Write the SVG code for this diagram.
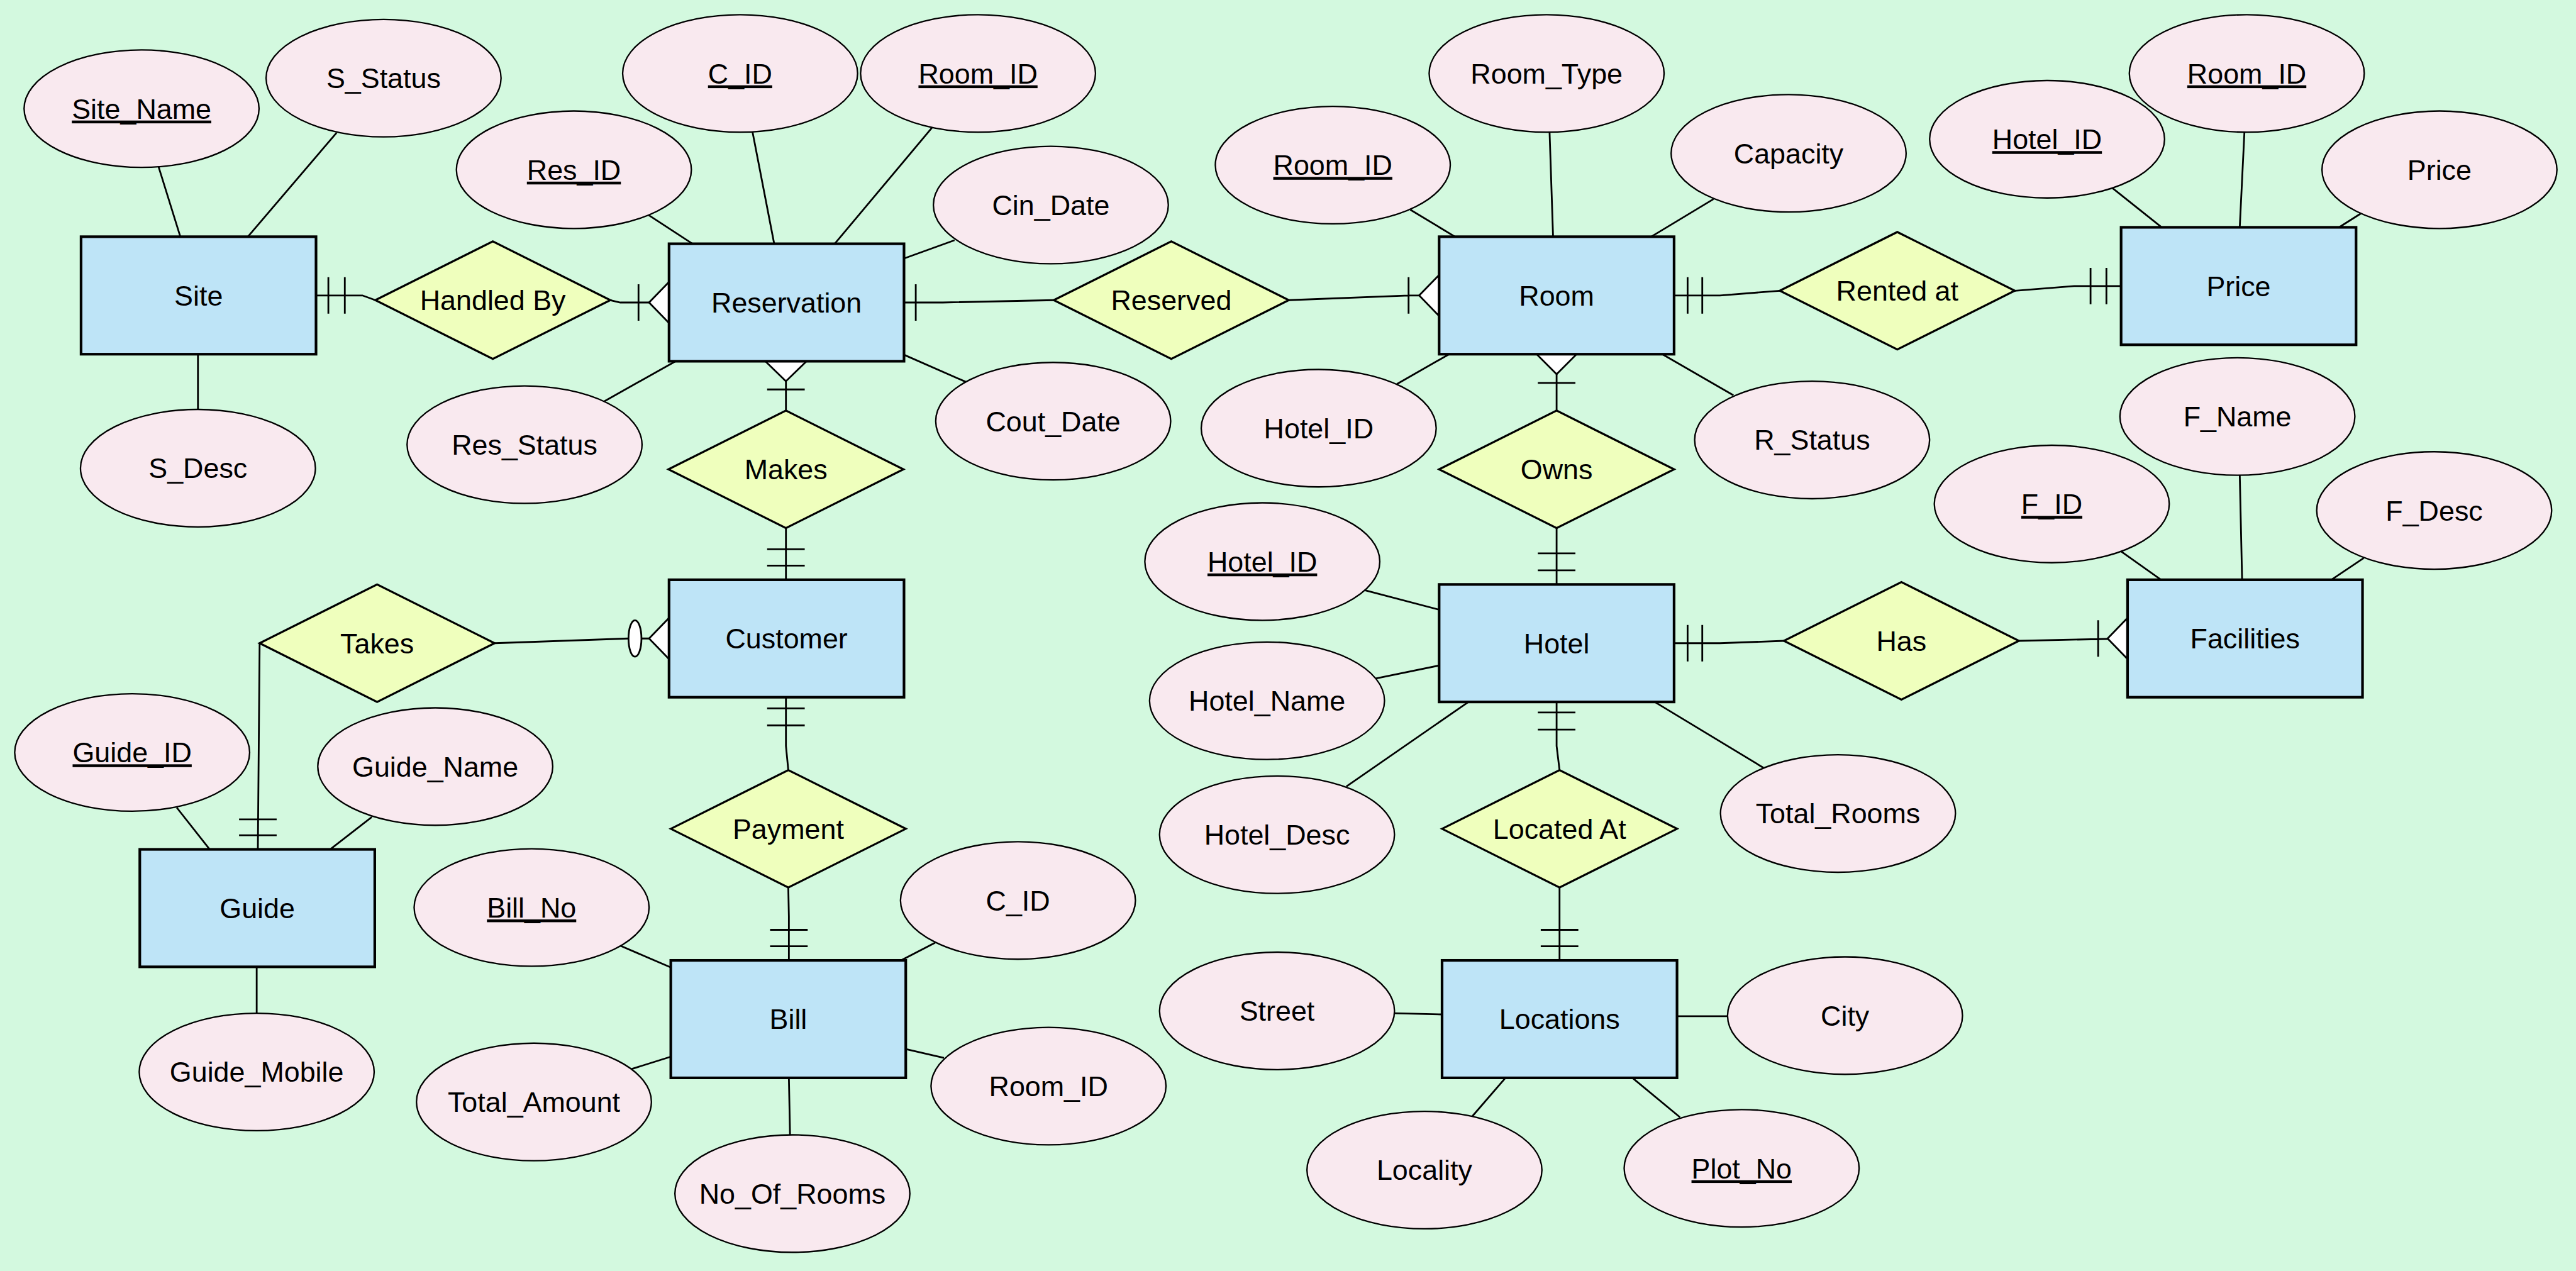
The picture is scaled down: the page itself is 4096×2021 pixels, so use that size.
<svg xmlns="http://www.w3.org/2000/svg" width="4096" height="2021" viewBox="0 0 4096 2021">
<style>
.ent{fill:#bee4f7;stroke:#000;stroke-width:4.5}
.rel{fill:#efffbd;stroke:#000;stroke-width:3.5}
.att{fill:#f9e9ef;stroke:#000;stroke-width:2.5}
.t{font-family:"Liberation Sans",Arial,sans-serif;font-size:48px;text-anchor:middle;fill:#000}
.u{text-decoration:underline}
.c{fill:none;stroke:#000;stroke-width:3}
.crow{fill:#fff;stroke:#000;stroke-width:3}
</style>
<rect width="4096" height="2021" fill="#d3f9df"/>
<g transform="scale(0.934)">
<g id="connectors">
<!-- attribute lines -->
<path class="c" d="M270,284L307,403M573,226L422,403M337,603L337,697"/>
<path class="c" d="M1104,366L1179,415M1281,224L1318,415M1587,217L1421,415M1625,409L1539,440M1644,650L1539,604M1029,683L1150,615"/>
<path class="c" d="M2401,357L2477,403M2638,224L2644,403M2917,339L2811,403M2378,654L2467,603M2951,673L2830,603"/>
<path class="c" d="M3596,320L3680,387M3821,224L3813,387M4020,363L3982,387"/>
<path class="c" d="M3610,938L3679,987M3813,808L3817,987M4024,950L3969,987"/>
<path class="c" d="M2324,1005L2450,1038M2342,1155L2450,1133M2292,1339L2500,1195M3002,1307L2817,1195"/>
<path class="c" d="M301,1375L357,1446M633,1391L562,1446M437,1646L437,1725"/>
<path class="c" d="M1056,1610L1142,1647M1592,1605L1534,1635M1075,1820L1142,1799M1607,1801L1542,1786M1345,1933L1343,1835"/>
<path class="c" d="M2373,1725L2455,1727M2855,1730L2941,1730M2506,1901L2563,1835M2779,1835L2860,1902"/>
<!-- relationship lines -->
<path class="c" d="M538,503L617,503L639,511M559,472L559,534M587,472L587,534"/>
<path class="c" d="M1039,511L1056,515L1139,515M1087,484L1087,546"/>
<polygon class="crow" points="1105,515 1139,480 1139,550"/>
<path class="c" d="M1539,515L1605,515L1794,511M1559,484L1559,546"/>
<path class="c" d="M2194,511L2398,503L2450,503M2398,472L2398,534"/>
<polygon class="crow" points="2416,503 2450,468 2450,538"/>
<path class="c" d="M2850,503L2928,503L3030,495M2873,472L2873,534M2898,472L2898,534"/>
<path class="c" d="M3430,495L3531,487L3611,487M3559,456L3559,518M3586,456L3586,518"/>
<path class="c" d="M1338,615L1338,699M1306,663L1370,663"/>
<polygon class="crow" points="1338,649 1303,615 1373,615"/>
<path class="c" d="M1338,899L1338,987M1306,935L1370,935M1306,963L1370,963"/>
<path class="c" d="M2650,603L2650,699M2618,652L2682,652"/>
<polygon class="crow" points="2650,637 2616,603 2684,603"/>
<path class="c" d="M2650,899L2650,995M2618,942L2682,942M2618,971L2682,971"/>
<path class="c" d="M2850,1095L2928,1095L3037,1091M2873,1064L2873,1126M2898,1064L2898,1126"/>
<path class="c" d="M3437,1091L3622,1087M3572,1056L3572,1118"/>
<polygon class="crow" points="3588,1087 3622,1052 3622,1122"/>
<path class="c" d="M2650,1195L2650,1270L2655,1311M2618,1213L2682,1213M2618,1242L2682,1242"/>
<path class="c" d="M2655,1511L2655,1635M2623,1583L2687,1583M2623,1611L2687,1611"/>
<path class="c" d="M842,1095L1070,1087M1092,1087L1139,1087"/>
<polygon class="crow" points="1105,1087 1139,1052 1139,1122"/>
<ellipse class="crow" cx="1081" cy="1087" rx="11" ry="31"/>
<path class="c" d="M442,1095L439,1446M407,1395L471,1395M407,1422L471,1422"/>
<path class="c" d="M1338,1187L1338,1270L1342,1311M1306,1206L1370,1206M1306,1235L1370,1235"/>
<path class="c" d="M1342,1511L1343,1560L1343,1635M1311,1583L1375,1583M1311,1611L1375,1611"/>
</g>
<!-- entities -->
<g id="site"><rect class="ent" x="138" y="403" width="400" height="200"/><text class="t" x="338" y="520">Site</text></g>
<g id="reservation"><rect class="ent" x="1139" y="415" width="400" height="200"/><text class="t" x="1339" y="532">Reservation</text></g>
<g id="room"><rect class="ent" x="2450" y="403" width="400" height="200"/><text class="t" x="2650" y="520">Room</text></g>
<g id="price"><rect class="ent" x="3611" y="387" width="400" height="200"/><text class="t" x="3811" y="504">Price</text></g>
<g id="customer"><rect class="ent" x="1139" y="987" width="400" height="200"/><text class="t" x="1339" y="1104">Customer</text></g>
<g id="hotel"><rect class="ent" x="2450" y="995" width="400" height="200"/><text class="t" x="2650" y="1112">Hotel</text></g>
<g id="facilities"><rect class="ent" x="3622" y="987" width="400" height="200"/><text class="t" x="3822" y="1104">Facilities</text></g>
<g id="guide"><rect class="ent" x="238" y="1446" width="400" height="200"/><text class="t" x="438" y="1563">Guide</text></g>
<g id="bill"><rect class="ent" x="1142" y="1635" width="400" height="200"/><text class="t" x="1342" y="1752">Bill</text></g>
<g id="locations"><rect class="ent" x="2455" y="1635" width="400" height="200"/><text class="t" x="2655" y="1752">Locations</text></g>
<!-- relationships -->
<g id="handled-by"><polygon class="rel" points="639,511 839,411 1039,511 839,611"/><text class="t" x="839" y="528">Handled By</text></g>
<g id="reserved"><polygon class="rel" points="1794,511 1994,411 2194,511 1994,611"/><text class="t" x="1994" y="528">Reserved</text></g>
<g id="rented-at"><polygon class="rel" points="3030,495 3230,395 3430,495 3230,595"/><text class="t" x="3230" y="512">Rented at</text></g>
<g id="makes"><polygon class="rel" points="1138,799 1338,699 1538,799 1338,899"/><text class="t" x="1338" y="816">Makes</text></g>
<g id="owns"><polygon class="rel" points="2450,799 2650,699 2850,799 2650,899"/><text class="t" x="2650" y="816">Owns</text></g>
<g id="takes"><polygon class="rel" points="442,1095 642,995 842,1095 642,1195"/><text class="t" x="642" y="1112">Takes</text></g>
<g id="has"><polygon class="rel" points="3037,1091 3237,991 3437,1091 3237,1191"/><text class="t" x="3237" y="1108">Has</text></g>
<g id="payment"><polygon class="rel" points="1142,1411 1342,1311 1542,1411 1342,1511"/><text class="t" x="1342" y="1428">Payment</text></g>
<g id="located-at"><polygon class="rel" points="2455,1411 2655,1311 2855,1411 2655,1511"/><text class="t" x="2655" y="1428">Located At</text></g>
<!-- attributes -->
<g id="a-site-name"><ellipse class="att" cx="241" cy="185" rx="200" ry="100"/><text class="t u" x="241" y="202">Site_Name</text></g>
<g id="a-s-status"><ellipse class="att" cx="653" cy="133" rx="200" ry="100"/><text class="t" x="653" y="150">S_Status</text></g>
<g id="a-s-desc"><ellipse class="att" cx="337" cy="797" rx="200" ry="100"/><text class="t" x="337" y="814">S_Desc</text></g>
<g id="a-res-cid"><ellipse class="att" cx="1260" cy="125" rx="200" ry="100"/><text class="t u" x="1260" y="142">C_ID</text></g>
<g id="a-res-roomid"><ellipse class="att" cx="1665" cy="125" rx="200" ry="100"/><text class="t u" x="1665" y="142">Room_ID</text></g>
<g id="a-res-id"><ellipse class="att" cx="977" cy="289" rx="200" ry="100"/><text class="t u" x="977" y="306">Res_ID</text></g>
<g id="a-cin-date"><ellipse class="att" cx="1789" cy="349" rx="200" ry="100"/><text class="t" x="1789" y="366">Cin_Date</text></g>
<g id="a-cout-date"><ellipse class="att" cx="1793" cy="717" rx="200" ry="100"/><text class="t" x="1793" y="734">Cout_Date</text></g>
<g id="a-res-status"><ellipse class="att" cx="893" cy="757" rx="200" ry="100"/><text class="t" x="893" y="774">Res_Status</text></g>
<g id="a-room-type"><ellipse class="att" cx="2633" cy="125" rx="200" ry="100"/><text class="t" x="2633" y="142">Room_Type</text></g>
<g id="a-room-id"><ellipse class="att" cx="2269" cy="281" rx="200" ry="100"/><text class="t u" x="2269" y="298">Room_ID</text></g>
<g id="a-capacity"><ellipse class="att" cx="3045" cy="261" rx="200" ry="100"/><text class="t" x="3045" y="278">Capacity</text></g>
<g id="a-room-hotelid"><ellipse class="att" cx="2245" cy="729" rx="200" ry="100"/><text class="t" x="2245" y="746">Hotel_ID</text></g>
<g id="a-r-status"><ellipse class="att" cx="3085" cy="749" rx="200" ry="100"/><text class="t" x="3085" y="766">R_Status</text></g>
<g id="a-price-hotelid"><ellipse class="att" cx="3485" cy="237" rx="200" ry="100"/><text class="t u" x="3485" y="254">Hotel_ID</text></g>
<g id="a-price-roomid"><ellipse class="att" cx="3825" cy="125" rx="200" ry="100"/><text class="t u" x="3825" y="142">Room_ID</text></g>
<g id="a-price"><ellipse class="att" cx="4153" cy="289" rx="200" ry="100"/><text class="t" x="4153" y="306">Price</text></g>
<g id="a-f-name"><ellipse class="att" cx="3809" cy="709" rx="200" ry="100"/><text class="t" x="3809" y="726">F_Name</text></g>
<g id="a-f-id"><ellipse class="att" cx="3493" cy="858" rx="200" ry="100"/><text class="t u" x="3493" y="875">F_ID</text></g>
<g id="a-f-desc"><ellipse class="att" cx="4144" cy="869" rx="200" ry="100"/><text class="t" x="4144" y="886">F_Desc</text></g>
<g id="a-hotel-id"><ellipse class="att" cx="2149" cy="956" rx="200" ry="100"/><text class="t u" x="2149" y="973">Hotel_ID</text></g>
<g id="a-hotel-name"><ellipse class="att" cx="2157" cy="1193" rx="200" ry="100"/><text class="t" x="2157" y="1210">Hotel_Name</text></g>
<g id="a-hotel-desc"><ellipse class="att" cx="2174" cy="1421" rx="200" ry="100"/><text class="t" x="2174" y="1438">Hotel_Desc</text></g>
<g id="a-total-rooms"><ellipse class="att" cx="3129" cy="1385" rx="200" ry="100"/><text class="t" x="3129" y="1402">Total_Rooms</text></g>
<g id="a-guide-id"><ellipse class="att" cx="225" cy="1281" rx="200" ry="100"/><text class="t u" x="225" y="1298">Guide_ID</text></g>
<g id="a-guide-name"><ellipse class="att" cx="741" cy="1305" rx="200" ry="100"/><text class="t" x="741" y="1322">Guide_Name</text></g>
<g id="a-guide-mobile"><ellipse class="att" cx="437" cy="1825" rx="200" ry="100"/><text class="t" x="437" y="1842">Guide_Mobile</text></g>
<g id="a-bill-no"><ellipse class="att" cx="905" cy="1545" rx="200" ry="100"/><text class="t u" x="905" y="1562">Bill_No</text></g>
<g id="a-bill-cid"><ellipse class="att" cx="1733" cy="1533" rx="200" ry="100"/><text class="t" x="1733" y="1550">C_ID</text></g>
<g id="a-total-amount"><ellipse class="att" cx="909" cy="1876" rx="200" ry="100"/><text class="t" x="909" y="1893">Total_Amount</text></g>
<g id="a-bill-roomid"><ellipse class="att" cx="1785" cy="1849" rx="200" ry="100"/><text class="t" x="1785" y="1866">Room_ID</text></g>
<g id="a-no-of-rooms"><ellipse class="att" cx="1349" cy="2032" rx="200" ry="100"/><text class="t" x="1349" y="2049">No_Of_Rooms</text></g>
<g id="a-street"><ellipse class="att" cx="2174" cy="1721" rx="200" ry="100"/><text class="t" x="2174" y="1738">Street</text></g>
<g id="a-city"><ellipse class="att" cx="3141" cy="1729" rx="200" ry="100"/><text class="t" x="3141" y="1746">City</text></g>
<g id="a-locality"><ellipse class="att" cx="2425" cy="1992" rx="200" ry="100"/><text class="t" x="2425" y="2009">Locality</text></g>
<g id="a-plot-no"><ellipse class="att" cx="2965" cy="1989" rx="200" ry="100"/><text class="t u" x="2965" y="2006">Plot_No</text></g>
</g>
</svg>
